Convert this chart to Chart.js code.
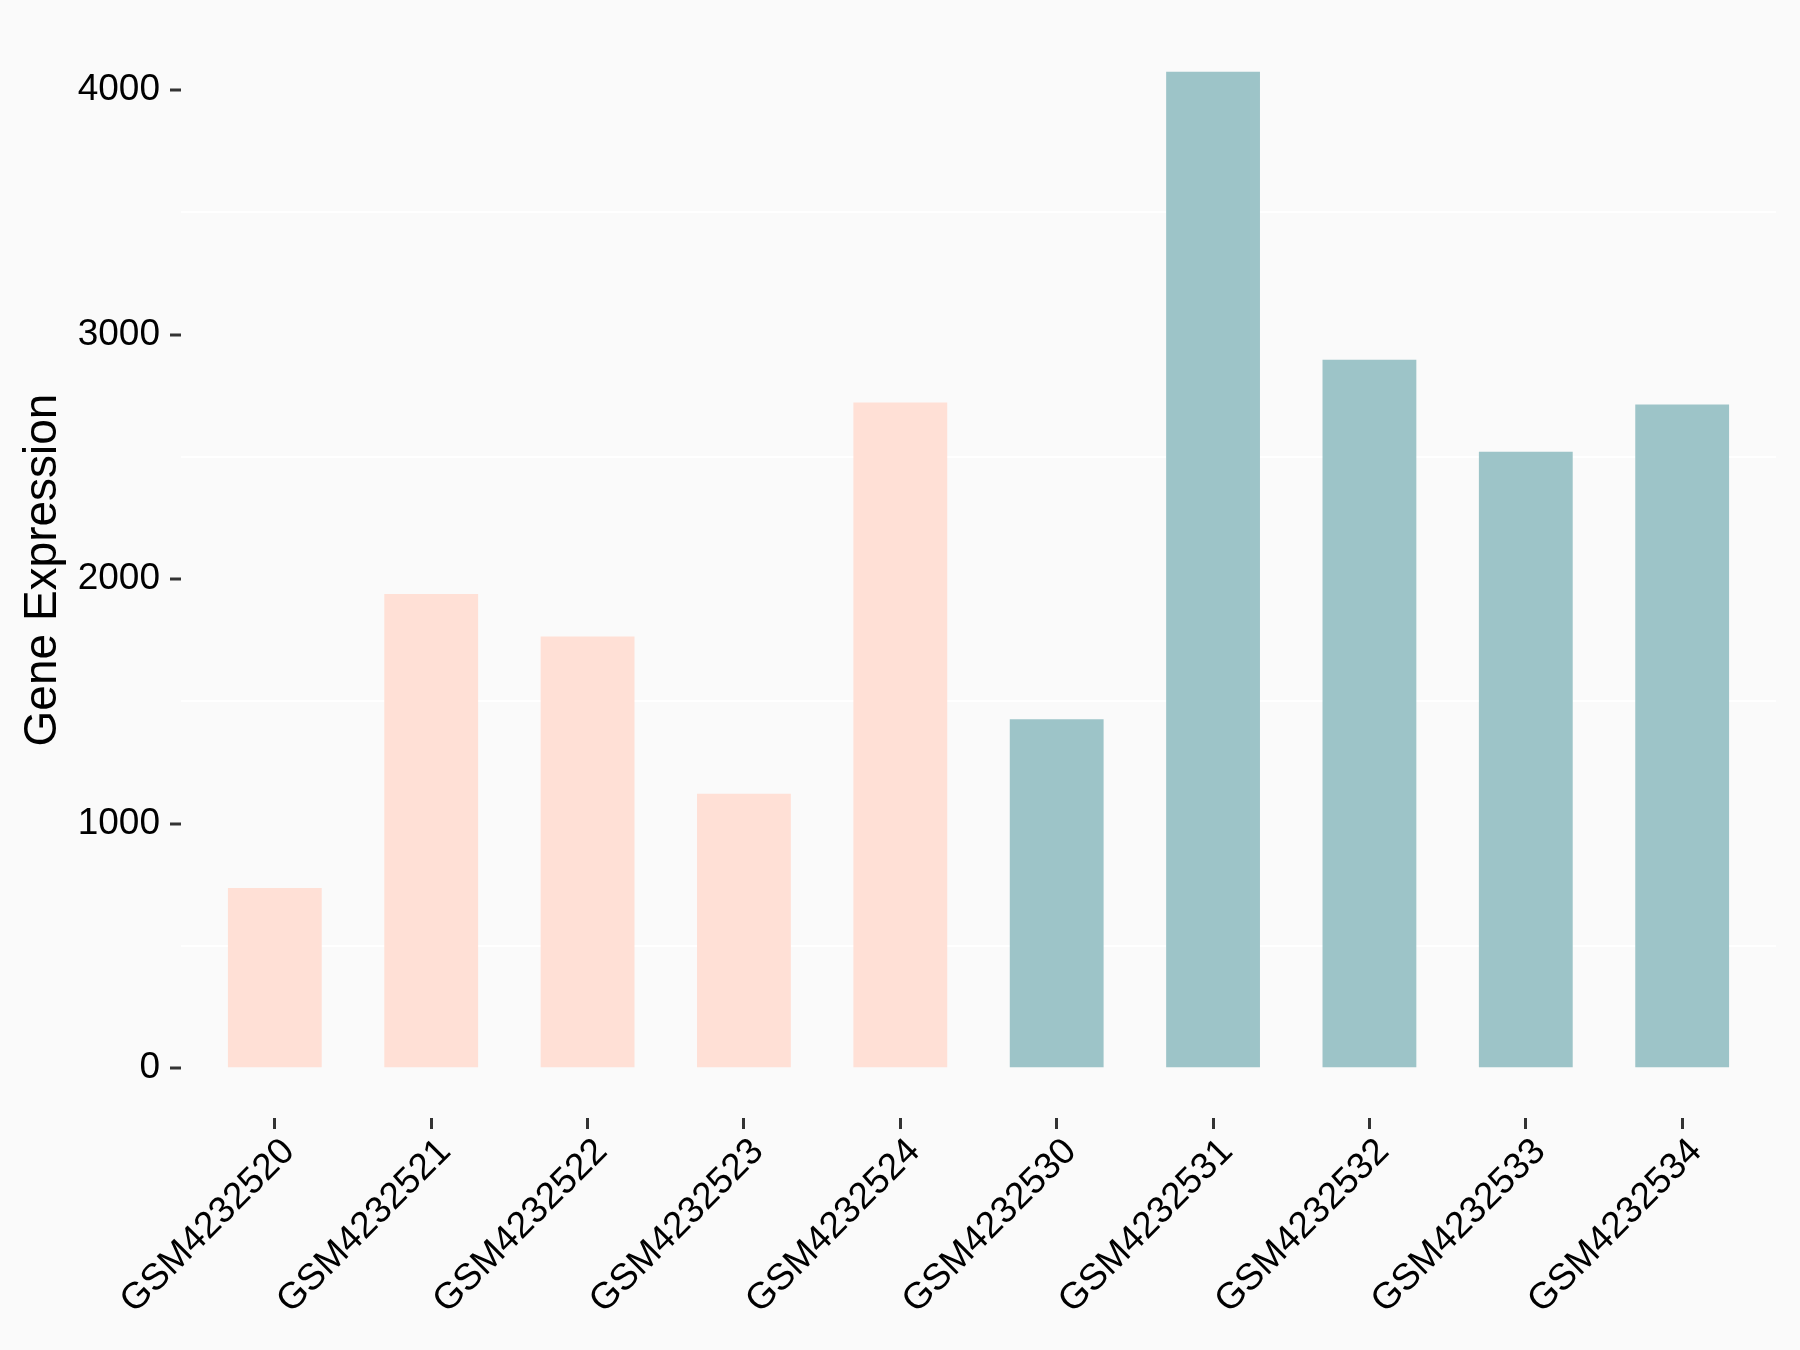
<!DOCTYPE html>
<html>
<head>
<meta charset="utf-8">
<script src="https://cdn.jsdelivr.net/npm/chart.js@4.4.0/dist/chart.umd.min.js"></script>
<style>
html, body { margin: 0; padding: 0; background: #fafafa; }
</style>
</head>
<body>
<canvas id="myChart" width="1800" height="1350"></canvas>
<script>
// sample ids along x
var samples = ['GSM4232520', 'GSM4232521', 'GSM4232522', 'GSM4232523', 'GSM4232524',
               'GSM4232530', 'GSM4232531', 'GSM4232532', 'GSM4232533', 'GSM4232534']
// expression per sample
var expression = [737, 1939, 1765, 1122, 2723, 1427, 4075, 2897, 2521, 2714]
// which group each sample belongs to
var groups = ['A', 'A', 'A', 'A', 'A', 'B', 'B', 'B', 'B', 'B']
// y ticks (labels every 1000, white grid in between)
var yTicks = [0, 500, 1000, 1500, 2000, 2500, 3000, 3500, 4000]

var groupColors = { A: '#ffe0d6', B: '#9dc4c8' }
var font = "'Liberation Sans', Arial, sans-serif"

var points = []
for (i = 0; i < samples.length; i++) {
    points.push({ x: i, y: expression[i] })
}

var bgPlugin = {
    id: 'bg',
    beforeDraw: function (chart) {
        var c = chart.ctx
        c.save()
        c.fillStyle = '#fafafa'
        c.fillRect(0, 0, chart.width, chart.height)
        c.restore()
    }
}

function buildGraph() {
    var ctx = document.getElementById('myChart').getContext('2d')
    var chart = new Chart(ctx, {
        type: 'bar',
        data: {
            datasets: [{
                data: points,
                backgroundColor: groups.map(function (g) { return groupColors[g] }),
                borderWidth: 0,
                barPercentage: 0.6,
                categoryPercentage: 1
            }]
        },
        options: {
            responsive: false,
            animation: false,
            layout: { padding: { top: 22, right: 24, left: 0, bottom: 0 } },
            plugins: {
                legend: { display: false },
                tooltip: { enabled: false }
            },
            scales: {
                x: {
                    type: 'linear',
                    offset: false,
                    min: -0.6,
                    max: 9.6,
                    afterBuildTicks: function (axis) {
                        axis.ticks = samples.map(function (s, i) { return { value: i } })
                    },
                    afterFit: function (scale) {
                        scale.height = 232
                        scale.paddingLeft = 0
                        scale.paddingRight = 0
                    },
                    border: { display: false },
                    grid: {
                        offset: false,
                        drawOnChartArea: false,
                        drawTicks: true,
                        tickLength: 11,
                        tickColor: '#333333',
                        tickWidth: 3
                    },
                    ticks: {
                        autoSkip: false,
                        minRotation: 45,
                        maxRotation: 45,
                        padding: 1,
                        labelOffset: 14,
                        color: '#000000',
                        font: { family: font, size: 37 },
                        callback: function (v) { return samples[v] }
                    }
                },
                y: {
                    min: -204,
                    max: 4279,
                    afterBuildTicks: function (axis) {
                        axis.ticks = yTicks.map(function (v) { return { value: v } })
                    },
                    afterFit: function (scale) {
                        scale.width = 181
                        scale.paddingTop = 0
                        scale.paddingBottom = 0
                    },
                    border: { display: false },
                    grid: {
                        color: function (c) { return c.tick && c.tick.value % 1000 ? '#ffffff' : 'rgba(0,0,0,0)' },
                        lineWidth: 2,
                        drawTicks: true,
                        tickLength: 11,
                        tickWidth: 3,
                        tickColor: function (c) { return c.tick && c.tick.value % 1000 ? 'rgba(0,0,0,0)' : '#333333' }
                    },
                    ticks: {
                        padding: 10,
                        color: '#000000',
                        font: { family: font, size: 37 },
                        callback: function (v) { return v % 1000 === 0 ? v : '' }
                    },
                    title: {
                        display: true,
                        text: 'Gene Expression',
                        color: '#000000',
                        font: { family: font, size: 46 },
                        padding: { top: 16, bottom: 0 }
                    }
                }
            }
        },
        plugins: [bgPlugin]
    })
}

buildGraph()
</script>
</body>
</html>
